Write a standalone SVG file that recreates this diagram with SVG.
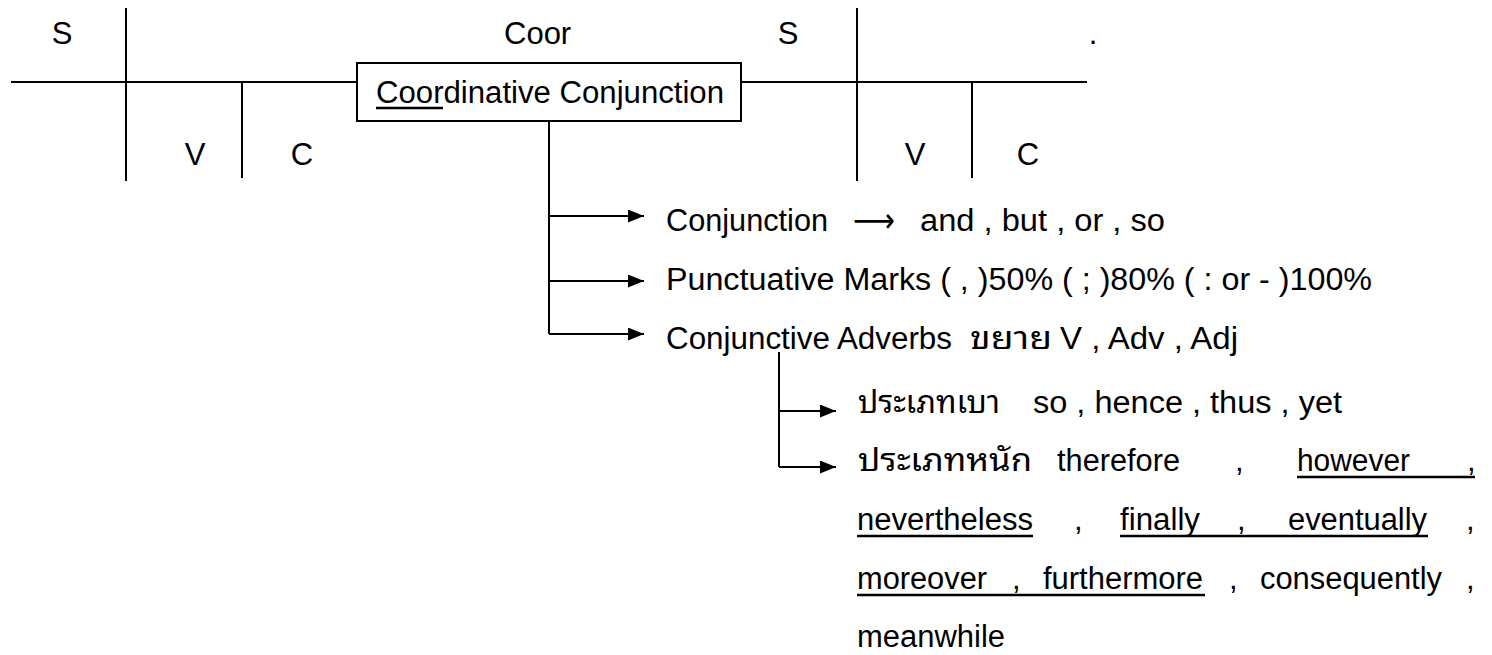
<svg xmlns="http://www.w3.org/2000/svg" width="1492" height="655" viewBox="0 0 1492 655">
<defs>
<style>
text{font-family:"Liberation Sans","Noto Sans Thai","Noto Sans","DejaVu Sans",sans-serif;font-size:31px;fill:#000}
.th{font-family:"Noto Sans Thai Looped","Loma","Norasi","Kinnari","Garuda","Noto Serif Thai","Noto Sans Thai","Liberation Sans",sans-serif;font-weight:normal}
.sym{font-family:"DejaVu Sans","Noto Sans",sans-serif;font-size:34px}
.ln{stroke:#000;stroke-width:2;fill:none}
.ul{stroke:#000;stroke-width:2.5}
.arr{stroke:#000;stroke-width:2;fill:none;marker-end:url(#ah)}
.mid{text-anchor:middle}
</style>
<marker id="ah" markerUnits="userSpaceOnUse" markerWidth="17" markerHeight="13" refX="16" refY="6.5" orient="auto"><path d="M0,0 L16,6.5 L0,13 z" fill="#000"/></marker>
</defs>
<rect width="1492" height="655" fill="#fff"/>

<g id="clause-1">
<line class="ln" x1="11" y1="82" x2="357" y2="82"/>
<line class="ln" x1="126" y1="8" x2="126" y2="181"/>
<line class="ln" x1="242" y1="82" x2="242" y2="178"/>
<text class="mid" x="62" y="44">S</text>
<text class="mid" x="195" y="165">V</text>
<text class="mid" x="302" y="165">C</text>
</g>

<g id="coordinative-conjunction">
<rect x="357" y="63" width="384" height="58" fill="#fff" stroke="#000" stroke-width="2"/>
<text x="376" y="103" textLength="348" lengthAdjust="spacingAndGlyphs">Coordinative Conjunction</text>
<line class="ul" x1="376" y1="108" x2="443" y2="108"/>
</g>

<g id="coor-label">
<text x="504" y="44">Coor</text>
</g>

<g id="clause-2">
<line class="ln" x1="741" y1="82" x2="1087" y2="82"/>
<line class="ln" x1="857" y1="8" x2="857" y2="181"/>
<line class="ln" x1="972" y1="82" x2="972" y2="178"/>
<text class="mid" x="788" y="44">S</text>
<text class="mid" x="915" y="165">V</text>
<text class="mid" x="1028" y="165">C</text>
<text class="mid" x="1093" y="44">.</text>
</g>

<g id="connectors">
<path class="ln" d="M549,121 V334"/>
<path class="arr" d="M549,216 H644"/>
<path class="arr" d="M549,281 H644"/>
<path class="arr" d="M549,334 H644"/>
<path class="ln" d="M779,352 V467"/>
<path class="arr" d="M779,411 H836"/>
<path class="arr" d="M779,467 H836"/>
</g>

<g id="item-conjunction">
<text x="666" y="231" textLength="162" lengthAdjust="spacingAndGlyphs">Conjunction</text>
<text class="sym" x="853" y="232" textLength="42" lengthAdjust="spacingAndGlyphs">⟶</text>
<text x="920" y="231" textLength="245" lengthAdjust="spacingAndGlyphs">and , but , or , so</text>
</g>

<g id="item-punctuative">
<text x="666" y="290" textLength="706" lengthAdjust="spacingAndGlyphs">Punctuative Marks ( , )50% ( ; )80% ( : or - )100%</text>
</g>

<g id="item-adverbs">
<text x="666" y="349" textLength="286" lengthAdjust="spacingAndGlyphs">Conjunctive Adverbs</text>
<text class="th" x="970" y="349" textLength="82" lengthAdjust="spacingAndGlyphs">ขยาย</text>
<text x="1060" y="349" textLength="178" lengthAdjust="spacingAndGlyphs">V , Adv , Adj</text>
</g>

<g id="type-light">
<text class="th" x="858" y="413" textLength="142" lengthAdjust="spacingAndGlyphs">ประเภทเบา</text>
<text x="1033" y="413" textLength="309" lengthAdjust="spacingAndGlyphs">so , hence , thus , yet</text>
</g>

<g id="type-heavy">
<text class="th" x="858" y="471" textLength="174" lengthAdjust="spacingAndGlyphs">ประเภทหนัก</text>
<text x="1057" y="471" textLength="123" lengthAdjust="spacingAndGlyphs">therefore</text>
<text x="1235" y="471">,</text>
<text x="1297" y="471" textLength="113" lengthAdjust="spacingAndGlyphs">however</text>
<text x="1467" y="471">,</text>
<line class="ul" x1="1297" y1="477" x2="1475" y2="477"/>

<text x="857" y="530" textLength="176" lengthAdjust="spacingAndGlyphs">nevertheless</text>
<text x="1074" y="530">,</text>
<text x="1120" y="530" textLength="80" lengthAdjust="spacingAndGlyphs">finally</text>
<text x="1237" y="530">,</text>
<text x="1288" y="530" textLength="139" lengthAdjust="spacingAndGlyphs">eventually</text>
<text x="1466" y="530">,</text>
<line class="ul" x1="857" y1="536" x2="1033" y2="536"/>
<line class="ul" x1="1120" y1="536" x2="1428" y2="536"/>

<text x="857" y="589" textLength="130" lengthAdjust="spacingAndGlyphs">moreover</text>
<text x="1012" y="589">,</text>
<text x="1043" y="589" textLength="160" lengthAdjust="spacingAndGlyphs">furthermore</text>
<text x="1229" y="589">,</text>
<text x="1260" y="589" textLength="182" lengthAdjust="spacingAndGlyphs">consequently</text>
<text x="1466" y="589">,</text>
<line class="ul" x1="857" y1="595" x2="1205" y2="595"/>

<text x="857" y="647" textLength="148" lengthAdjust="spacingAndGlyphs">meanwhile</text>
</g>
</svg>
